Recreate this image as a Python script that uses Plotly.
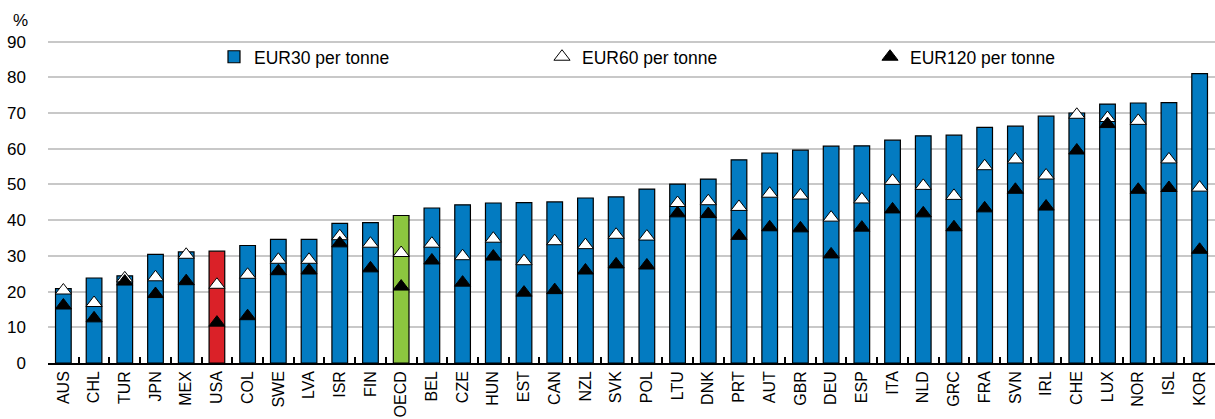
import plotly.graph_objects as go

countries = ["AUS", "CHL", "TUR", "JPN", "MEX", "USA", "COL", "SWE", "LVA", "ISR", "FIN", "OECD",
             "BEL", "CZE", "HUN", "EST", "CAN", "NZL", "SVK", "POL", "LTU", "DNK", "PRT", "AUT",
             "GBR", "DEU", "ESP", "ITA", "NLD", "GRC", "FRA", "SVN", "IRL", "CHE", "LUX", "NOR",
             "ISL", "KOR"]
eur30 = [20.8, 23.8, 24.4, 30.4, 31.1, 31.3, 32.9, 34.6, 34.6, 39.1, 39.3, 41.3,
         43.4, 44.3, 44.8, 44.9, 45.1, 46.2, 46.5, 48.7, 50.1, 51.5, 56.9, 58.8,
         59.6, 60.7, 60.8, 62.4, 63.6, 63.8, 66.0, 66.3, 69.1, 70.0, 72.5, 72.8,
         72.9, 81.0]
eur60 = [20.3, 16.8, 23.7, 24.0, 30.3, 21.9, 24.7, 28.9, 28.9, 35.5, 33.4, 30.8,
         33.4, 29.9, 34.8, 28.5, 34.1, 33.0, 35.9, 35.4, 44.8, 45.3, 43.7, 47.4,
         46.9, 40.7, 45.8, 51.0, 49.6, 46.8, 55.1, 57.0, 52.5, 69.5, 68.6, 67.8,
         57.0, 49.1]
eur120 = [16.1, 12.5, 22.8, 19.3, 22.9, 11.3, 13.1, 25.7, 25.9, 33.5, 26.5, 21.4,
          28.7, 22.5, 29.8, 19.7, 20.4, 25.9, 27.6, 27.3, 41.9, 41.7, 35.6, 38.0,
          37.7, 30.4, 37.9, 43.0, 41.9, 38.0, 43.3, 48.5, 43.8, 59.5, 66.9, 48.5,
          49.0, 31.7]
series_names = ["EUR30 per tonne", "EUR60 per tonne", "EUR120 per tonne"]
y_ticks = [0, 10, 20, 30, 40, 50, 60, 70, 80, 90]

BLUE = "#037BC1"
RED = "#DA2128"
GREEN = "#8CC63F"
bar_colors = [RED if c == "USA" else GREEN if c == "OECD" else BLUE for c in countries]

FONT = "Liberation Sans, Arial, sans-serif"

fig = go.Figure()
fig.add_trace(go.Bar(
    x=countries, y=eur30, name=series_names[0], width=0.51,
    marker=dict(color=bar_colors, line=dict(color="black", width=1.2)),
))
fig.add_trace(go.Scatter(
    x=countries, y=eur60, name=series_names[1], mode="markers",
    marker=dict(symbol="triangle-up", size=14, color="white", line=dict(color="black", width=1)),
))
fig.add_trace(go.Scatter(
    x=countries, y=eur120, name=series_names[2], mode="markers",
    marker=dict(symbol="triangle-up", size=14, color="black", line=dict(color="black", width=1)),
))

fig.update_layout(
    width=1215, height=419,
    margin=dict(l=48, r=0, t=38, b=56),
    paper_bgcolor="white", plot_bgcolor="white",
    font=dict(family=FONT, size=17, color="black"),
    showlegend=True,
    legend=dict(
        orientation="h", x=(214 - 48) / 1167, xanchor="left", y=0.942, yanchor="middle",
        entrywidth=283, entrywidthmode="pixels",
        font=dict(family=FONT, size=17.5, color="black"),
        bgcolor="rgba(255,255,255,0)", traceorder="normal",
    ),
    annotations=[dict(
        text="%", xref="paper", yref="paper", x=(20 - 48) / 1167, y=(363 - 21) / 325,
        xanchor="center", yanchor="middle", showarrow=False,
        font=dict(family=FONT, size=17, color="black"),
    )],
)
fig.update_xaxes(
    type="category", range=[-0.5, len(countries) - 0.5], tickangle=-90,
    ticks="inside", tickson="boundaries", ticklen=6,
    tickcolor="black", tickwidth=1.5, showline=True, linecolor="black", linewidth=1.5,
    showgrid=False, automargin=False, tickfont=dict(family=FONT, size=16),
)
fig.update_yaxes(
    range=[0, 91], tickvals=y_ticks, showgrid=True, gridcolor="#c8c8c8", gridwidth=1.5,
    zeroline=False, showline=False, ticks="", ticklabelstandoff=21, automargin=False,
    tickfont=dict(family=FONT, size=17),
)

fig.write_html(
    "out.html",
    config={"displayModeBar": False},
    post_script="document.body.style.margin='0';document.body.style.overflow='hidden';",
)
